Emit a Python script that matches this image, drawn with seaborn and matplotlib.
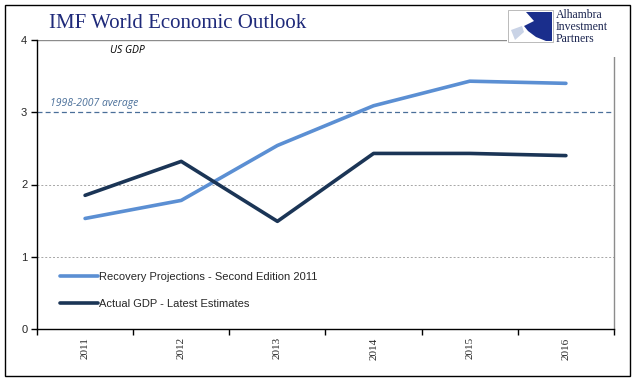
import numpy as np
import pandas as pd
import seaborn as sns
import matplotlib.pyplot as plt
from matplotlib.patches import Rectangle, Polygon

years = ["2011", "2012", "2013", "2014", "2015", "2016"]
projections = [1.53, 1.78, 2.54, 3.09, 3.43, 3.40]
actual = [1.85, 2.32, 1.49, 2.43, 2.43, 2.40]
series_names = ["Recovery Projections - Second Edition 2011", "Actual GDP - Latest Estimates"]
average_value = 3.0

df = pd.DataFrame({
    "pos": list(range(len(years))) * 2,
    "value": projections + actual,
    "series": [series_names[0]] * len(years) + [series_names[1]] * len(years),
})

sns.set_theme(style="white")
plt.rcParams["font.family"] = ["Liberation Sans", "DejaVu Sans"]

W, H = 641, 381
fig = plt.figure(figsize=(W / 100, H / 100), dpi=100)


def fx(x):
    return x / W


def fy(y):
    return 1 - y / H


ax = fig.add_axes([fx(37), fy(329), fx(614) - fx(37), fy(40) - fy(329)])

palette = {series_names[0]: "#5B8FD3", series_names[1]: "#1B3556"}
sns.lineplot(data=df, x="pos", y="value", hue="series", palette=palette,
             linewidth=2.6, ax=ax, legend=True)

ax.set_xlim(-0.5, len(years) - 0.5)
ax.set_ylim(0, 4)

# gridlines
for v in [1, 2]:
    ax.axhline(v, color="#A6A6A6", linestyle=(0, (2, 2)), linewidth=0.7, zorder=0)
ax.axhline(4, color="#8C8C8C", linewidth=1.0, zorder=0)
ax.axhline(average_value, color="#4A6F99", linestyle=(0, (4, 2.5)), linewidth=0.9, zorder=0)

ax.set_yticks([0, 1, 2, 3, 4])
ax.set_yticklabels(["0", "1", "2", "3", "4"], fontsize=8)
ax.set_xticks(range(len(years)))
ax.set_xticklabels(years, rotation=90, fontsize=8, family="Liberation Serif")
ax.set_xticks(np.arange(-0.5, len(years), 1.0), minor=True)
ax.tick_params(axis="x", which="major", length=0, pad=6, bottom=True)
ax.tick_params(axis="x", which="minor", length=4, width=1, color="black",
               direction="out", bottom=True)
ax.tick_params(axis="y", which="major", length=4, width=1, color="black",
               direction="out", left=True, pad=3)
ax.set_xlabel("")
ax.set_ylabel("")

ax.spines["left"].set_color("black")
ax.spines["bottom"].set_color("black")
ax.spines["right"].set_color("#8C8C8C")
ax.spines["top"].set_visible(False)
for s in ax.spines.values():
    s.set_linewidth(1)

leg = ax.legend(loc="lower left", bbox_to_anchor=(0.017, 0.022), frameon=False,
                fontsize=8, handlelength=3.4, handletextpad=0.1,
                labelspacing=1.6, borderaxespad=0.8)
for line in leg.get_lines():
    line.set_linewidth(2.6)

ax.text(0.127, 0.955, "US GDP", transform=ax.transAxes, fontsize=7.5,
        style="italic", family="Open Sans", color="black")
ax.text(0.022, average_value + 0.04, "1998-2007 average",
        transform=ax.get_yaxis_transform(), fontsize=7.5, style="italic",
        family="Open Sans", color="#4A6F99", va="bottom")

# title
fig.text(fx(178), fy(23), "IMF World Economic Outlook", ha="center", va="center",
         fontsize=15, family="Liberation Serif", color="#1F2A7A")

# logo area
fig.patches.append(Rectangle((fx(507), fy(57)), fx(629) - fx(507), fy(6) - fy(57),
                             transform=fig.transFigure, facecolor="white",
                             edgecolor="none", zorder=5))
fig.patches.append(Rectangle((fx(508), fy(42)), fx(553) - fx(508), fy(10) - fy(42),
                             transform=fig.transFigure, facecolor="white",
                             edgecolor="#B0B0B0", linewidth=0.6, zorder=6))
swoosh = [(526, 12), (552, 12), (552, 41), (546, 41), (536, 37), (528, 31),
          (524, 26), (534, 21)]
fig.patches.append(Polygon([(fx(x), fy(y)) for x, y in swoosh], closed=True,
                           transform=fig.transFigure, facecolor="#1A2E8C",
                           edgecolor="none", zorder=7))
wedge = [(511, 30), (522, 26), (524, 32), (515, 40)]
fig.patches.append(Polygon([(fx(x), fy(y)) for x, y in wedge], closed=True,
                           transform=fig.transFigure, facecolor="#C9D3E6",
                           edgecolor="none", zorder=7))
for i, word in enumerate(["Alhambra", "Investment", "Partners"]):
    fig.text(fx(556), fy(15 + 12 * i), word, ha="left", va="center", fontsize=8.5,
             family="Liberation Serif", color="#1B2550", zorder=8)

# outer border
fig.patches.append(Rectangle((fx(5), fy(376)), fx(630) - fx(5), fy(5) - fy(376),
                             transform=fig.transFigure, facecolor="none",
                             edgecolor="black", linewidth=1.0, zorder=9))

fig.savefig("out.png", dpi=100)
